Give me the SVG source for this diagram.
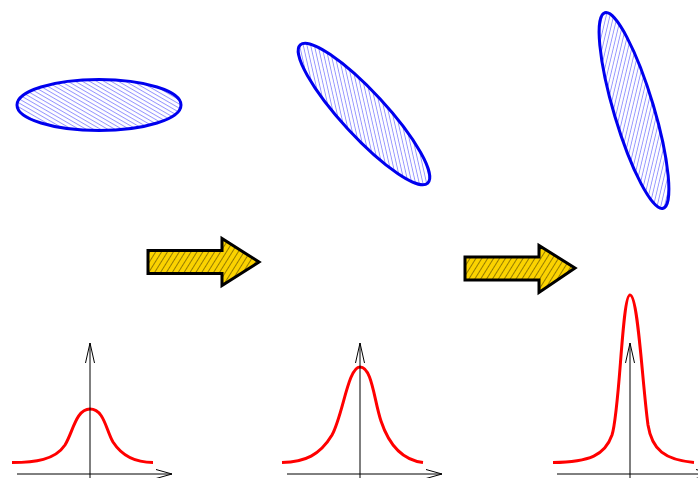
<svg xmlns="http://www.w3.org/2000/svg" width="698" height="478" viewBox="0 0 698 478">
<defs>
<pattern id="hatchBlue" patternUnits="userSpaceOnUse" width="3.6" height="3.6" patternTransform="rotate(30)">
<line x1="0" y1="0.5" x2="3.6" y2="0.5" stroke="#6060ff" stroke-width="0.8" stroke-opacity="0.8"/>
</pattern>
<pattern id="hatchGold" patternUnits="userSpaceOnUse" width="5" height="5" patternTransform="rotate(-58)">
<rect width="5" height="5" fill="#fbd300"/>
<line x1="0" y1="0.5" x2="5" y2="0.5" stroke="#6a5600" stroke-width="0.7"/>
</pattern>
<style>
.ell{fill:url(#hatchBlue);stroke:#0000ee;stroke-width:3}
.fat{fill:url(#hatchGold);stroke:#000;stroke-width:3;stroke-linejoin:miter}
.curve{fill:none;stroke:#ff0000;stroke-width:3}
.axis{fill:none;stroke:#000;stroke-width:1}
</style>
</defs>
<g id="ellipse1"><ellipse class="ell" cx="99" cy="105" rx="82" ry="25.5"/></g>
<g id="ellipse2"><ellipse class="ell" cx="364" cy="114" rx="94" ry="22" transform="rotate(47.3 364 114)"/></g>
<g id="ellipse3"><ellipse class="ell" cx="634" cy="110.5" rx="102" ry="20" transform="rotate(73.4 634 110.5)"/></g>
<g id="arrow1"><path class="fat" d="M148,250.5 L222,250.5 L222,238.5 L259,262 L222,285.5 L222,273.5 L148,273.5 Z"/></g>
<g id="arrow2"><path class="fat" d="M465,257 L539,257 L539,245.5 L575,268 L539,292.5 L539,280 L465,280 Z"/></g>
<g id="graph1">
<path class="curve" d="M12,462.5 C35,462.5 55,460 65,445 C73,432 76,409 90,409 C104,409 106,430 113,442 C122,456 135,462.5 153,462.5"/>
<path class="axis" d="M17,474 H172 M156,469.5 L172,474 L156,478.5 M90,478 V343 M85.5,363 L90,343 L94.5,363"/>
</g>
<g id="graph2">
<path class="curve" d="M282,462.5 C305,462 320,455 332,435 C343,415 348,367 360,367 C372,367 374,400 381,421 C389,445 402,460 423,462.5"/>
<path class="axis" d="M287,474 H442 M426,469.5 L442,474 L426,478.5 M360,478 V343 M355.5,363 L360,343 L364.5,363"/>
</g>
<g id="graph3">
<path class="curve" d="M553,462.5 C590,462 605,455 612,435 C620,410 622,295 630,295 C638,295 642,380 648,425 C652,450 665,460 694,462.5"/>
<path class="axis" d="M557,474 H712 M696,469.5 L712,474 L696,478.5 M630,478 V343 M625.5,363 L630,343 L634.5,363"/>
</g>
</svg>
